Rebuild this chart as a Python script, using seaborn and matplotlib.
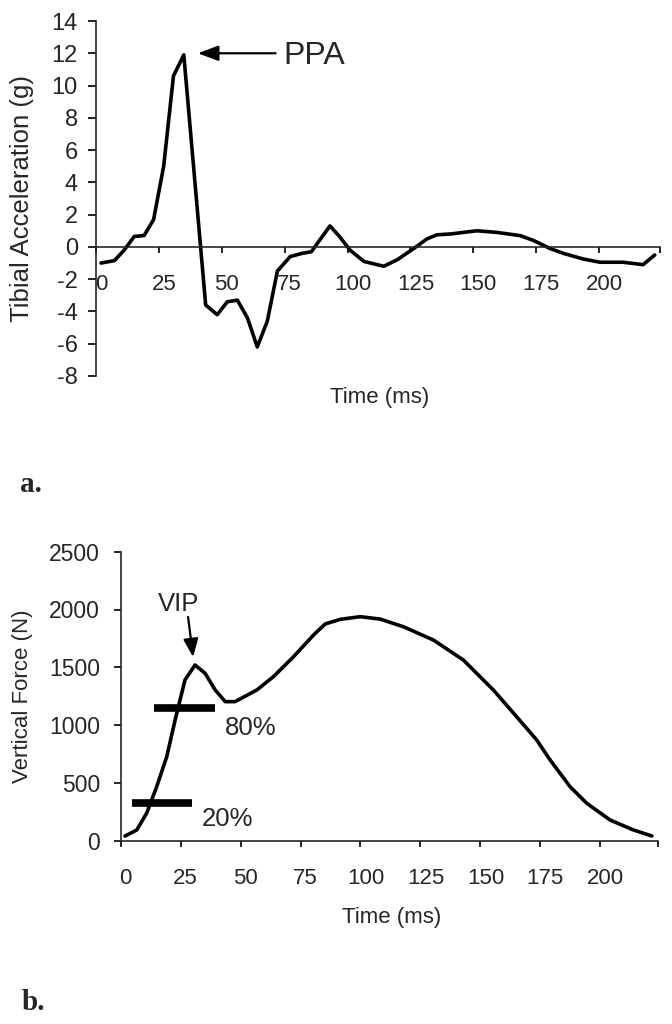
import matplotlib
matplotlib.use("Agg")
import matplotlib.pyplot as plt
import matplotlib.transforms as mtransforms
import seaborn as sns

# panel a: tibial acceleration (g) over time (ms)
acc_time = [2, 7.3, 11.2, 15.2, 19.1, 22.9, 26.9, 30.8, 34.9, 43.6, 48.2, 52.2, 56.2,
            60.2, 64.1, 68.1, 72.1, 77.2, 81.9, 85.6, 93, 96.5, 101, 106.5, 114.4,
            119.7, 126.3, 131.6, 135.5, 140.8, 151.4, 159.3, 168.6, 173.9, 180.5,
            185.8, 193.7, 200.3, 209.5, 217.5, 222.1]
acc_g = [-1.0, -0.85, -0.2, 0.65, 0.7, 1.7, 5.0, 10.6, 11.9, -3.6, -4.2, -3.4, -3.3,
         -4.4, -6.2, -4.6, -1.5, -0.6, -0.4, -0.3, 1.3, 0.7, -0.2, -0.9, -1.2,
         -0.8, -0.1, 0.5, 0.75, 0.8, 1.0, 0.9, 0.7, 0.4, -0.1,
         -0.4, -0.75, -0.95, -0.95, -1.1, -0.5]
acc_yticks = [-8, -6, -4, -2, 0, 2, 4, 6, 8, 10, 12, 14]

# panel b: vertical force (N) over time (ms)
force_time = [1.8, 6.7, 10.8, 15, 19.2, 22.7, 26.8, 31, 35.2, 39.4, 43.6, 47.7, 56.8,
              63.7, 72.1, 80.4, 85.3, 91.6, 99.9, 108.2, 117.9, 130.4, 142.9, 155.4,
              165.1, 173.5, 179.1, 187.4, 194.4, 204.1, 213.8, 221.5]
force_n = [40, 93, 237, 467, 727, 1044, 1390, 1520, 1448, 1304, 1203, 1203, 1304,
           1419, 1592, 1779, 1875, 1915, 1938, 1917, 1851, 1736, 1563, 1304,
           1073, 871, 698, 467, 323, 179, 93, 41]
force_yticks = [0, 500, 1000, 1500, 2000, 2500]

# loading-rate markers (20% / 80%)
bar80_x = [13.9, 39.4]
bar80_y = [1145, 1145]
bar20_x = [4.6, 29.9]
bar20_y = [329, 329]

time_ticks = [0, 25, 50, 75, 100, 125, 150, 175, 200]
time_max = 224.2

sns.set_style("ticks")
plt.rcParams["font.family"] = ["Liberation Sans", "DejaVu Sans"]
plt.rcParams["axes.linewidth"] = 1.2
plt.rcParams["axes.unicode_minus"] = False

fig = plt.figure(figsize=(6.72, 10.24), dpi=100)
ax1 = fig.add_axes([96 / 672, 1 - 376 / 1024, 564 / 672, 355 / 1024])
ax2 = fig.add_axes([120.7 / 672, 1 - 840.7 / 1024, 537.6 / 672, 289 / 1024])

shift = mtransforms.ScaledTranslation(5 / 100, 0, fig.dpi_scale_trans)

# ---- panel a ----
sns.lineplot(x=acc_time, y=acc_g, ax=ax1, color="black", linewidth=2.6)
ax1.set_xlim(0, time_max)
ax1.set_ylim(-8, 14)
ax1.set_yticks(acc_yticks)
ax1.set_xticks(time_ticks)
ax1.set_xticks([time_max], minor=True)
ax1.spines["top"].set_visible(False)
ax1.spines["right"].set_visible(False)
ax1.spines["bottom"].set_position(("data", 0))
ax1.tick_params(axis="y", length=6, width=1.2, pad=7, labelsize=17, color="black")
ax1.tick_params(axis="x", which="both", length=4.5, width=1.2, pad=15, labelsize=16, color="black")
for lab in ax1.get_xticklabels():
    lab.set_transform(lab.get_transform() + shift)
ax1.set_xlabel("Time (ms)", fontsize=16, va="center")
ax1.xaxis.set_label_coords((380 - 96) / 564, (376 - 397) / 355)
ax1.set_ylabel("Tibial Acceleration (g)", fontsize=18.5, va="center")
ax1.yaxis.set_label_coords((22 - 96) / 564, 0.5)

ax1.annotate("", xy=(40.5, 12.0), xytext=(71.4, 12.0),
             arrowprops=dict(arrowstyle="-|>,head_length=1.25,head_width=0.47",
                             color="black", lw=1.6, shrinkA=0, shrinkB=0,
                             mutation_scale=10))
ax1.text(74.6, 11.34, "PPA", fontsize=23, ha="left", va="baseline")

# ---- panel b ----
sns.lineplot(x=force_time, y=force_n, ax=ax2, color="black", linewidth=2.6)
ax2.plot(bar80_x, bar80_y, color="black", linewidth=5.5, solid_capstyle="butt")
ax2.plot(bar20_x, bar20_y, color="black", linewidth=5.5, solid_capstyle="butt")
ax2.set_xlim(0, time_max)
ax2.set_ylim(0, 2500)
ax2.set_yticks(force_yticks)
ax2.set_xticks(time_ticks)
ax2.set_xticks([time_max], minor=True)
ax2.spines["top"].set_visible(False)
ax2.spines["right"].set_visible(False)
ax2.tick_params(axis="y", length=5, width=1.2, pad=10, labelsize=16.5, color="black")
ax2.tick_params(axis="x", which="both", length=4.5, width=1.2, pad=15, labelsize=16, color="black")
for lab in ax2.get_xticklabels():
    lab.set_transform(lab.get_transform() + shift)
ax2.set_xlabel("Time (ms)", fontsize=16, va="center")
ax2.xaxis.set_label_coords((391.5 - 120.7) / 537.6, (840.7 - 918) / 289)
ax2.set_ylabel("Vertical Force (N)", fontsize=16, va="center")
ax2.yaxis.set_label_coords((22 - 120.7) / 537.6, 0.5)

ax2.annotate("", xy=(30.2, 1589), xytext=(28.1, 1935),
             arrowprops=dict(arrowstyle="-|>,head_length=1.1,head_width=0.45",
                             color="black", lw=1.6, shrinkA=0, shrinkB=0,
                             mutation_scale=10))
ax2.text(24.3, 1987, "VIP", fontsize=18.5, ha="center", va="baseline")
ax2.text(43.5, 915, "80%", fontsize=18.5, ha="left", va="baseline")
ax2.text(33.8, 128, "20%", fontsize=18.5, ha="left", va="baseline")

# panel letters
fig.text(20 / 672, 1 - 485 / 1024, "a.", fontsize=21, fontweight="bold",
         family="Liberation Serif", ha="left", va="center")
fig.text(22 / 672, 1 - 1003 / 1024, "b.", fontsize=21, fontweight="bold",
         family="Liberation Serif", ha="left", va="center")

fig.savefig("out.png", dpi=100)
